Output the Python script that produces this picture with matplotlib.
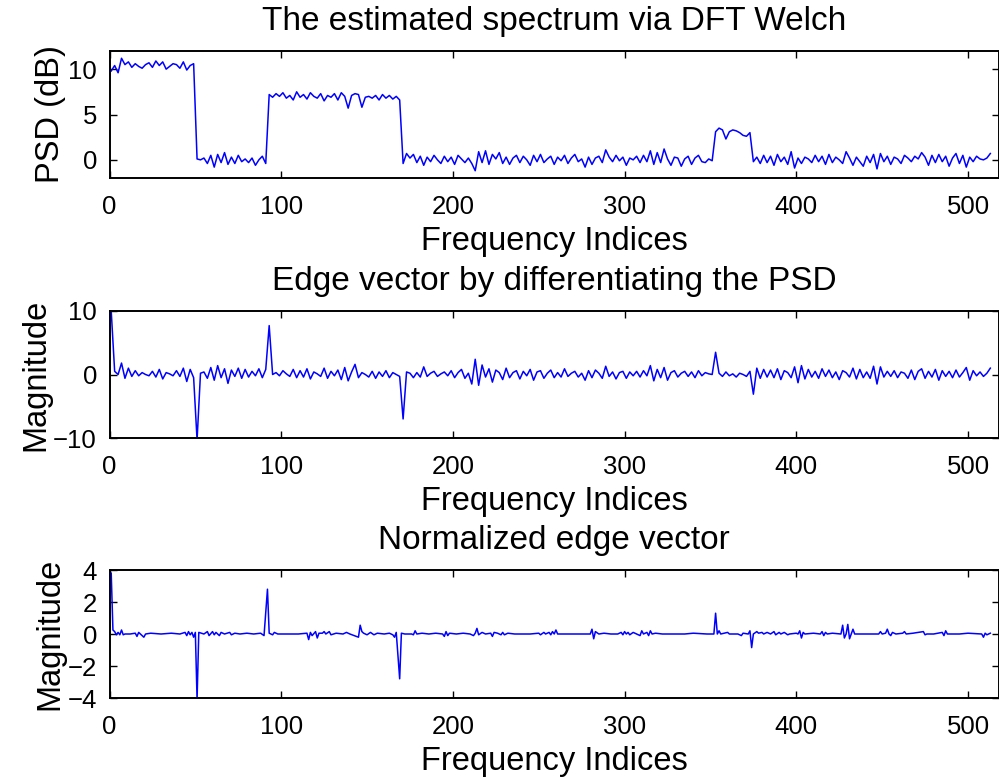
import numpy as np
import matplotlib.pyplot as plt

plt.rcParams['font.family'] = ['Liberation Sans', 'DejaVu Sans']

# --- PSD estimate (dB), read every 2nd frequency index, one list per band ---
psd_starts = [1, 51, 93, 171, 353, 375]
psd_band1 = [9.8, 10.4, 9.6, 11.2, 10.5, 10.8, 10.2, 10.6, 10.3, 10.1,
             10.5, 10.7, 10.2, 10.9, 10.4, 10.8, 10.0, 10.3, 10.6, 10.5,
             10.1, 10.8, 9.9, 10.4, 10.6]
psd_gap1 = [0.1, 0.0, 0.2, -0.4, 0.5, -0.8, 0.6, -0.3, 0.8, -0.5,
            0.3, -0.4, 0.5, -0.2, 0.1, -0.3, 0.2, -0.6, 0.0, 0.4, -0.4]
psd_band2 = [7.2, 6.9, 7.3, 7.0, 7.4, 6.8, 7.1, 6.6, 7.5, 6.9,
             7.2, 6.7, 7.4, 7.0, 6.8, 7.3, 6.5, 7.1, 6.9, 7.3,
             6.6, 7.4, 7.0, 5.7, 7.1, 7.3, 7.2, 5.8, 6.9, 7.0,
             6.8, 7.1, 6.6, 7.2, 6.8, 7.1, 6.7, 7.0, 6.6]
psd_gap2 = [-0.4, 0.7, 0.2, 0.6, -0.3, 0.4, -0.6, 0.3, -0.2, 0.5,
            0.0, -0.4, 0.4, -0.2, 0.3, -0.5, 0.5, 0.1, -0.3, 0.2,
            -0.4, -1.2, 0.9, -0.3, 1.0, -0.5, 0.6, 0.1, 0.8, -0.4,
            0.3, -0.5, 0.2, 0.5, -0.3, 0.4, 0.0, -0.6, 0.5, -0.2,
            0.6, -0.3, 0.1, 0.4, -0.5, 0.3, -0.1, 0.5, -0.4, 0.2,
            0.6, -0.2, 0.1, -0.8, 0.3, -0.5, 0.2, 0.4, -0.3, 1.1,
            0.3, -0.2, 0.5, -0.1, 0.3, -0.6, 0.2, 0.0, 0.4, -0.3,
            0.5, -0.2, 1.0, -0.5, 0.8, -0.3, 1.2, 0.1, -0.6, 0.3,
            0.2, -0.7, 0.1, 0.4, -0.5, 0.2, 0.5, -0.2, -0.3, 0.1,
            -0.1]
psd_band3 = [3.1, 3.5, 3.3, 2.3, 3.1, 3.3, 3.2, 3.0, 2.7, 2.6, 3.0]
psd_gap3 = [-0.2, 0.3, -0.4, 0.5, -0.3, 0.4, -0.6, 0.6, -0.2, 0.3,
            -0.5, 0.9, -0.9, 0.2, -0.4, 0.3, 0.1, -0.3, 0.5, -0.2,
            0.4, -0.5, 0.6, -0.3, 0.3, 0.0, -0.4, 0.9, 0.2, -0.6,
            0.3, -0.2, -0.7, 0.4, -0.3, 0.6, -1.0, 0.7, -0.2, 0.4,
            -0.5, 0.3, 0.1, -0.4, 0.5, 0.2, -0.2, 0.4, 0.1, 0.8,
            0.3, -0.6, 0.5, -0.3, 0.6, -0.2, 0.4, -0.7, 0.2, 0.7,
            -0.4, 0.5, -0.8, 0.3, -0.2, 0.4, 0.1, 0.0, 0.2, 0.7]
psd_parts = [psd_band1, psd_gap1, psd_band2, psd_gap2, psd_band3, psd_gap3]

# --- edge vector (difference of the PSD), same index grid ---
edge_starts = [1, 51, 93, 171, 353, 375]
edge_seg1 = [10.0, 0.5, 0.0, 1.8, -0.6, 1.0, -0.3, 0.6, -0.2, 0.3,
             0.0, -0.2, 0.5, -0.4, 0.8, -0.7, 0.3, 0.1, -0.2, 0.6,
             -0.3, 1.0, -1.1, 0.8, -0.5]
edge_seg2 = [-10.3, 0.2, 0.4, -0.6, 1.1, -0.9, 1.4, -0.5, 0.9, -1.4,
             0.7, -0.3, 1.0, -0.6, 0.8, -0.4, 0.5, -0.2, 0.9, -0.5, 0.8]
edge_seg3 = [7.7, 0.0, 0.3, -0.2, 0.6, 0.1, -0.3, 0.8, -0.5, 0.6,
             -0.4, 0.9, -0.7, 0.4, 0.1, -0.3, 1.0, -0.6, 0.5, -0.2,
             0.7, -0.8, 1.1, -1.0, 0.4, 1.6, -0.5, 0.3, 0.0, -0.4,
             0.5, -0.6, 0.4, -0.3, 0.6, -0.5, 0.3, 0.0, -0.3]
edge_seg4 = [-7.0, 0.4, 0.2, -0.5, 0.3, -0.4, 1.2, -0.3, 0.2, 0.5,
             -0.3, 0.1, 0.4, -0.2, 0.6, -0.5, 0.3, 0.8, -0.6, 0.2,
             -1.5, 2.4, -1.7, 1.5, -0.4, 0.9, -1.2, 0.7, 0.3, -0.8,
             1.0, -0.5, 0.3, 0.6, -0.7, 0.5, -0.2, 0.8, -0.9, 0.4,
             0.6, -0.6, 0.2, 0.7, -0.5, 0.3, -0.4, 0.9, -0.3, 0.2,
             0.5, -0.4, 0.2, -0.9, 0.6, -0.5, 0.7, 0.2, -0.6, 1.3,
             -0.3, 0.4, -0.7, 0.3, 0.5, -0.6, 0.4, -0.2, 0.5, -0.4,
             0.6, -0.2, 1.4, -1.0, 0.8, -0.5, 1.1, -0.9, 0.3, 0.6,
             -0.4, 0.2, 0.5, -0.3, 0.4, -0.5, 0.6, -0.2, 0.3, 0.1,
             0.0]
edge_seg5 = [3.5, 0.2, -0.3, 0.4, -0.2, 0.1, -0.4, 0.2, 0.0, -0.3, 0.5]
edge_seg6 = [-3.1, 1.0, -0.6, 0.8, -0.4, 0.7, -0.5, 0.9, -0.8, 0.6,
             0.3, -0.5, 1.2, -1.3, 1.4, -0.7, 0.8, -0.4, 0.5, -0.6,
             0.9, -0.3, 0.7, -0.5, 0.4, -0.8, 0.6, 0.3, -0.4, 1.0,
             -0.7, 0.8, -0.5, 0.4, -0.6, 1.3, -1.5, 1.2, -0.4, 0.5,
             -0.3, 0.6, -0.5, 0.4, 0.2, -0.6, 0.7, -0.8, 0.5, 0.9,
             -0.6, 0.5, -0.4, 0.8, -0.9, 0.6, -0.3, 0.5, -0.5, 0.7,
             -0.4, 0.3, 1.1, -0.9, 0.6, -0.2, 0.4, -0.3, 0.2, 1.0]
edge_parts = [edge_seg1, edge_seg2, edge_seg3, edge_seg4, edge_seg5, edge_seg6]

# --- normalized edge vector: vertices ---
norm_idx = [1, 2, 3, 4, 5, 6, 7, 8, 9, 12, 15, 16, 17, 18, 20, 21, 24, 30, 36, 41,
            44, 45, 46, 47, 48, 49, 50, 51, 52, 55, 57, 58, 60, 61, 62, 64, 65, 67, 70, 71,
            73, 76, 80, 84, 88, 90, 92, 93, 95, 96, 98, 110, 115, 116, 117, 118, 120, 121, 122, 124,
            125, 126, 128, 129, 132, 136, 138, 140, 145, 146, 147, 148, 150, 152, 154, 156, 160, 163, 165, 166,
            167, 169, 170, 172, 176, 177, 178, 179, 182, 186, 190, 194, 195, 196, 197, 198, 202, 206, 210, 212,
            213, 214, 215, 217, 219, 222, 223, 224, 226, 228, 229, 230, 232, 236, 245, 250, 251, 253, 254, 256,
            257, 258, 259, 260, 261, 265, 275, 280, 281, 282, 283, 285, 288, 292, 296, 298, 299, 300, 301, 302,
            303, 305, 307, 309, 310, 311, 313, 314, 315, 316, 318, 322, 335, 340, 348, 352, 353, 354, 355, 356,
            358, 360, 361, 366, 368, 369, 372, 373, 374, 375, 377, 378, 380, 381, 383, 385, 387, 388, 390, 391,
            393, 395, 396, 400, 401, 402, 403, 404, 405, 410, 414, 415, 416, 417, 418, 421, 426, 427, 428, 429,
            430, 431, 432, 433, 434, 440, 448, 449, 450, 452, 453, 454, 455, 456, 458, 462, 463, 464, 468, 474,
            475, 476, 480, 485, 486, 487, 488, 495, 500, 508, 509, 510, 511, 513]
norm_val = [3.8, 0.25, 0.15, -0.05, 0.1, -0.05, 0.25, -0.05, 0.0, 0.0, 0.05, -0.15, 0.1, 0.0, -0.2, 0.0, 0.05, 0.0, 0.05, 0.0,
            0.1, -0.1, 0.15, -0.05, 0.1, -0.2, 0.1, -4.1, 0.1, 0.0, 0.15, -0.1, 0.15, -0.05, 0.1, -0.1, 0.1, 0.0, 0.1, -0.05,
            0.05, 0.0, 0.05, 0.0, 0.05, -0.1, 2.8, 0.05, -0.05, 0.1, 0.0, 0.0, 0.05, -0.35, 0.1, -0.1, 0.15, -0.25, 0.05, 0.05,
            0.15, 0.0, 0.15, -0.05, 0.05, 0.0, 0.1, 0.0, -0.2, 0.55, 0.15, 0.05, -0.05, 0.1, -0.05, 0.05, 0.0, 0.05, -0.05, -0.2,
            0.1, -2.8, 0.05, 0.0, 0.0, -0.05, 0.2, 0.0, 0.05, 0.0, 0.05, 0.0, -0.15, 0.15, -0.1, 0.05, 0.0, 0.05, 0.0, -0.1,
            0.05, 0.35, -0.05, 0.1, 0.0, 0.05, -0.15, 0.1, 0.05, -0.05, 0.1, -0.05, 0.05, 0.0, 0.0, 0.05, -0.05, 0.1, 0.0, 0.1,
            -0.05, 0.15, 0.0, 0.25, 0.0, 0.0, 0.0, 0.0, 0.3, -0.3, 0.15, 0.0, 0.05, 0.0, 0.0, 0.1, -0.05, 0.15, 0.0, 0.1,
            -0.05, 0.1, 0.0, -0.1, 0.2, 0.0, 0.1, -0.1, 0.2, 0.0, 0.05, 0.0, 0.0, 0.05, 0.0, 0.0, 1.3, 0.0, 0.2, 0.0,
            0.05, 0.1, 0.0, 0.0, -0.1, 0.05, 0.0, 0.2, -0.85, 0.0, 0.15, 0.05, 0.1, 0.0, 0.1, 0.0, 0.15, -0.05, 0.1, 0.0,
            0.1, -0.05, 0.0, 0.05, 0.0, 0.2, -0.25, 0.1, 0.0, 0.05, 0.0, 0.15, -0.1, 0.1, 0.0, 0.05, 0.0, 0.55, -0.25, 0.0,
            0.6, -0.3, 0.0, 0.3, 0.0, 0.0, 0.0, 0.15, 0.0, 0.05, 0.3, 0.0, -0.1, 0.1, 0.0, 0.05, 0.15, 0.0, 0.05, 0.15,
            -0.05, 0.0, 0.0, 0.1, -0.1, 0.2, 0.0, 0.0, 0.05, 0.0, -0.2, 0.05, -0.05, 0.05]

titles = ['The estimated spectrum via DFT Welch',
          'Edge vector by differentiating the PSD',
          'Normalized edge vector']
ylabels = ['PSD (dB)', 'Magnitude', 'Magnitude']
ylims = [(-2, 12), (-10, 10), (-4, 4)]
yticks = [[0, 5, 10], [-10, 0, 10], [-4, -2, 0, 2, 4]]
xticks = [0, 100, 200, 300, 400, 500]


def stitch(starts, parts):
    x = np.concatenate([np.arange(s, s + 2 * len(p), 2) for s, p in zip(starts, parts)])
    y = np.concatenate([np.asarray(p, dtype=float) for p in parts])
    return x, y


psd_x, psd_y = stitch(psd_starts, psd_parts)
edge_x, edge_y = stitch(edge_starts, edge_parts)
series = [(psd_x, psd_y), (edge_x, edge_y), (np.array(norm_idx), np.array(norm_val))]

fig = plt.figure(figsize=(9.99, 7.79), dpi=100)
W, H = 999.0, 779.0
left = 109.5 / W
width = 518 * 1.717 / W
# (top, bottom) pixel rows of each axes box
boxes = [(51, 178), (311, 438), (570, 698)]

for k, (x, y) in enumerate(series):
    top, bot = boxes[k]
    ax = fig.add_axes([left, 1 - bot / H, width, (bot - top) / H])
    ax.plot(x, y, color='#0000FF', linewidth=1.1)
    ax.set_xlim(0, 518)
    ax.set_ylim(*ylims[k])
    ax.set_xticks(xticks)
    ax.set_yticks(yticks[k])
    ax.tick_params(direction='in', top=True, right=True, length=5, width=1.0,
                   labelsize=18.5)
    ax.tick_params(axis='x', pad=12)
    ax.tick_params(axis='y', pad=9)
    for sp in ax.spines.values():
        sp.set_linewidth(1.4)
    ax.set_title(titles[k], fontsize=24, pad=15)
    ax.set_xlabel('Frequency Indices', fontsize=23.5, labelpad=5.5)
    ax.set_ylabel(ylabels[k], fontsize=23.5, labelpad=1.5)

fig.savefig('out.png', dpi=100)
